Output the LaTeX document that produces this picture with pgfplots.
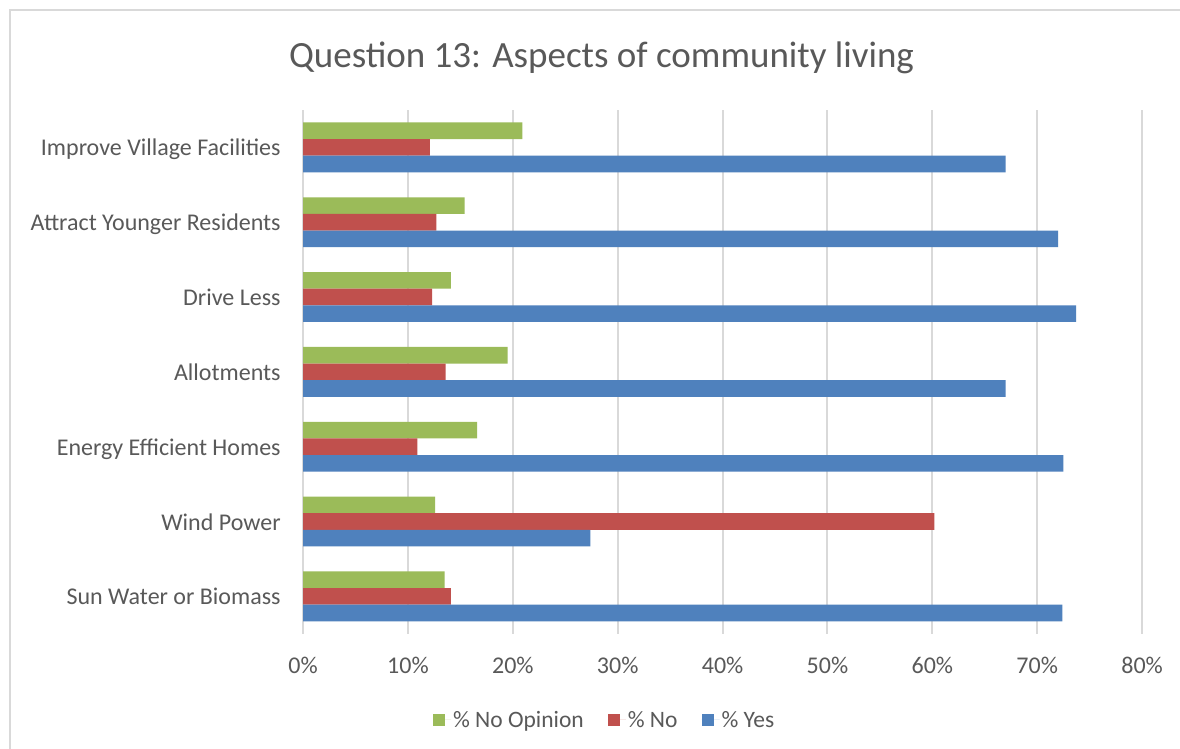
\documentclass[border=0pt]{standalone}
\usepackage{fontspec}
\setmainfont{Carlito}
\usepackage{pgfplots}
\pgfplotsset{compat=1.18}
\definecolor{cyes}{HTML}{4F81BD}
\definecolor{cno}{HTML}{C0504D}
\definecolor{cnoop}{HTML}{9BBB59}
\definecolor{gridgray}{HTML}{D9D9D9}
\definecolor{txtgray}{HTML}{595959}
\begin{document}
\begin{tikzpicture}[x=1pt,y=1pt]
\useasboundingbox (0,0) rectangle (1180,749);
\fill[white] (0,0) rectangle (1180,749);
\draw[gridgray, line width=2pt] (9.5,0) -- (9.5,738.5) -- (1180,738.5);
\node[anchor=base, text=txtgray, font=\fontsize{37}{44}\selectfont] at (601.5,681) {Question 13: Aspects of community living};
\begin{axis}[
  at={(289,154)}, anchor=south west,
  scale only axis, width=839pt, height=523.8pt,
  xmin=0, xmax=80, ymin=-0.5, ymax=6.5,
  xbar, bar width=0.2222,
  xtick={0,10,...,80},
  xticklabels={0\%,10\%,20\%,30\%,40\%,50\%,60\%,70\%,80\%},
  ytick={0,...,6},
  yticklabels={Sun Water or Biomass, Wind Power, Energy Efficient Homes, Allotments, Drive Less, Attract Younger Residents, Improve Village Facilities},
  xmajorgrids, grid style={draw=gridgray, line width=2pt},
  axis line style={draw=none}, tick style={draw=none},
  xticklabel style={font=\fontsize{24}{28}\selectfont, text=txtgray, anchor=base, inner sep=0pt, yshift=-40pt},
  yticklabel style={font=\fontsize{24}{28}\selectfont, text=txtgray, anchor=base east, inner sep=0pt, xshift=-18pt, yshift=-8.5pt},
  legend image code/.code={\fill[#1] (0pt,-6pt) rectangle (12pt,6pt); \path (0pt,0pt) -- (18pt,0pt);},
  legend style={at={(0.3595,-0.1646)}, anchor=center, draw=none, fill=none, legend columns=-1,
    font=\fontsize{23.5}{28}\selectfont, text=txtgray, inner sep=0pt,
    /tikz/every even column/.append style={column sep=22pt}},
]
\addplot[fill=cnoop, draw=none, bar shift=0.2222] coordinates {(13.5,0) (12.6,1) (16.6,2) (19.5,3) (14.1,4) (15.4,5) (20.9,6)};
\addplot[fill=cno, draw=none, bar shift=0] coordinates {(14.1,0) (60.2,1) (10.9,2) (13.6,3) (12.3,4) (12.7,5) (12.1,6)};
\addplot[fill=cyes, draw=none, bar shift=-0.2222] coordinates {(72.4,0) (27.4,1) (72.5,2) (67.0,3) (73.7,4) (72.0,5) (67.0,6)};
\legend{\% No Opinion, \% No, \% Yes}
\end{axis}
\end{tikzpicture}
\end{document}
